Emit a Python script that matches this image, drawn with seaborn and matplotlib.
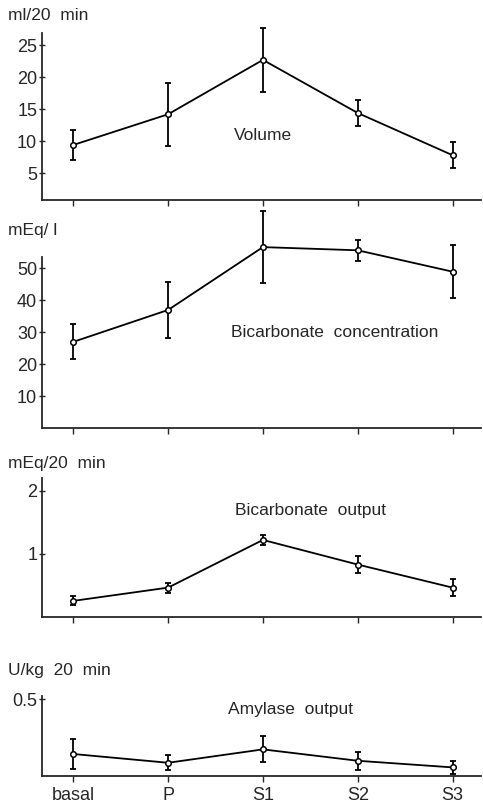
import numpy as np
import pandas as pd
import matplotlib
matplotlib.use("Agg")
import matplotlib.pyplot as plt
import seaborn as sns

# Données (moyenne +/- erreur)
phases = ["basal", "P", "S1", "S2", "S3"]

volume = [9.4, 14.2, 22.7, 14.4, 7.8]
volume_err = [2.3, 4.9, 5.0, 2.1, 2.0]

bicarb_conc = [27.0, 37.0, 56.7, 55.7, 49.0]
bicarb_conc_err = [5.5, 8.7, 11.3, 3.2, 8.4]

bicarb_out = [0.255, 0.465, 1.22, 0.83, 0.465]
bicarb_out_err = [0.07, 0.08, 0.085, 0.135, 0.14]

amylase = [0.143, 0.086, 0.173, 0.099, 0.056]
amylase_err = [0.097, 0.05, 0.085, 0.06, 0.04]

sns.set_style("ticks")
plt.rcParams["font.family"] = ["Liberation Sans", "DejaVu Sans"]

W, H = 483, 805
fig = plt.figure(figsize=(W / 100, H / 100), dpi=100)


def make_axes(top_px, bottom_px, left_px=42, right_px=481):
    return fig.add_axes([left_px / W, 1 - bottom_px / H,
                         (right_px - left_px) / W, (bottom_px - top_px) / H])


panels = [
    # (valeurs, erreurs, haut px, bas px, ylim, yticks, unité, y unité px, texte, pos texte)
    (volume, volume_err, 33, 200, (0.8, 26.9), [5, 10, 15, 20, 25], "ml/20  min", 16,
     "Volume", (2.0, 10.9)),
    (bicarb_conc, bicarb_conc_err, 257, 428, (0, 53.6), [10, 20, 30, 40, 50], "mEq/ l", 230,
     "Bicarbonate  concentration", (2.76, 30)),
    (bicarb_out, bicarb_out_err, 478, 617, (0, 2.2), [1, 2], "mEq/20  min", 463,
     "Bicarbonate  output", (2.5, 1.69)),
    (amylase, amylase_err, 696, 776, (0, 0.52), [0.5], "U/kg  20  min", 670,
     "Amylase  output", (2.29, 0.435)),
]

x = np.arange(len(phases))

for i, (vals, errs, top, bot, ylim, yt, unit, unit_y, label, lpos) in enumerate(panels):
    ax = make_axes(top, bot)
    df = pd.DataFrame({"x": x, "y": vals})
    ax.errorbar(x, vals, yerr=errs, fmt="none", ecolor="black", elinewidth=1.3,
                capsize=2.5, capthick=1.3, clip_on=False, zorder=2)
    sns.lineplot(data=df, x="x", y="y", ax=ax, color="black", linewidth=1.3,
                 marker="o", markersize=4, markerfacecolor="white",
                 markeredgecolor="black", markeredgewidth=1.1, clip_on=False, zorder=3)
    ax.set_xlim(-0.33, 4.3)
    ax.set_ylim(*ylim)
    ax.set_yticks(yt)
    ax.set_yticklabels(["0.5" if v == 0.5 else str(v) for v in yt])
    ax.set_xticks(x)
    if i == 3:
        ax.set_xticklabels(phases, fontsize=13)
    else:
        ax.set_xticklabels([])
    ax.set_xlabel("")
    ax.set_ylabel("")
    ax.tick_params(axis="y", direction="inout", length=5, width=1, labelsize=13, pad=1)
    ax.tick_params(axis="x", direction="out", length=4, width=1, pad=4)
    sns.despine(ax=ax)
    for s in ["left", "bottom"]:
        ax.spines[s].set_linewidth(1.3)
    ax.text(lpos[0], lpos[1], label, ha="center", va="center", fontsize=12.5)
    fig.text(8 / W, 1 - unit_y / H, unit, ha="left", va="center", fontsize=12.5)

plt.savefig("out.png", dpi=100)
